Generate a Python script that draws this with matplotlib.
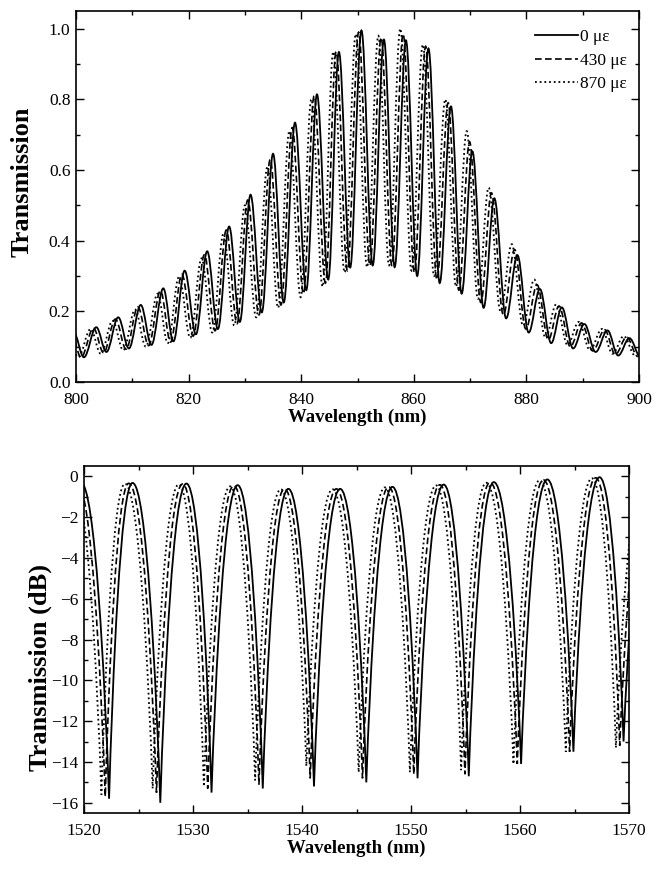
import numpy as np
import matplotlib
matplotlib.use("Agg")
import matplotlib.pyplot as plt
from matplotlib.path import Path
from matplotlib.patches import PathPatch
from matplotlib.lines import Line2D
from matplotlib.ticker import MultipleLocator, FormatStrFormatter

plt.rcParams['font.family'] = ['Liberation Serif', 'DejaVu Serif']

# ---------------- data: top panel (fringe extrema) ----------------
labels = ["0 \u03bc\u03b5", "430 \u03bc\u03b5", "870 \u03bc\u03b5"]

top_peak_x_0 = [799.6, 803.6, 807.5, 811.5, 815.5, 819.3, 823.3, 827.2, 831.0, 835.0, 838.9, 842.8, 846.7,
                850.7, 854.7, 858.6, 862.6, 866.6, 870.4, 874.3, 878.4, 882.4, 886.3, 890.3, 894.4, 898.3]
top_peak_y_0 = [0.14, 0.155, 0.183, 0.218, 0.265, 0.315, 0.37, 0.44, 0.53, 0.646, 0.734, 0.814, 0.934,
                0.995, 0.969, 0.967, 0.944, 0.78, 0.653, 0.52, 0.359, 0.263, 0.211, 0.164, 0.146, 0.124]
top_trough_x_0 = [801.4, 805.4, 809.4, 813.4, 817.3, 821.3, 825.2, 829.1, 833.0, 836.9, 840.9, 844.8, 848.7,
                  852.7, 856.6, 860.6, 864.6, 868.5, 872.4, 876.4, 880.4, 884.4, 888.3, 892.3, 896.3, 900.3]
top_trough_y_0 = [0.07, 0.085, 0.095, 0.105, 0.115, 0.135, 0.15, 0.17, 0.197, 0.225, 0.26, 0.29, 0.324,
                  0.33, 0.325, 0.30, 0.28, 0.25, 0.21, 0.18, 0.14, 0.11, 0.095, 0.085, 0.075, 0.07]

top_peak_x_430 = [799.1, 803.1, 807.0, 811.0, 815.0, 818.8, 822.8, 826.7, 830.5, 834.5, 838.4, 842.3, 846.2,
                  850.2, 854.2, 858.1, 862.1, 866.1, 869.9, 873.8, 877.9, 881.9, 885.8, 889.8, 893.9, 897.8]
top_peak_y_430 = [0.14, 0.152, 0.178, 0.212, 0.258, 0.305, 0.36, 0.43, 0.515, 0.63, 0.72, 0.81, 0.935,
                  0.99, 0.975, 0.985, 0.95, 0.79, 0.68, 0.535, 0.375, 0.275, 0.215, 0.167, 0.148, 0.127]
top_trough_x_430 = [800.9, 804.9, 808.9, 812.9, 816.8, 820.8, 824.7, 828.6, 832.5, 836.4, 840.4, 844.3, 848.2,
                    852.2, 856.1, 860.1, 864.1, 868.0, 871.9, 875.9, 879.9, 883.9, 887.8, 891.8, 895.8, 899.8]
top_trough_y_430 = [0.07, 0.083, 0.093, 0.103, 0.113, 0.13, 0.145, 0.165, 0.19, 0.218, 0.25, 0.28, 0.315,
                    0.33, 0.33, 0.31, 0.29, 0.26, 0.225, 0.19, 0.15, 0.12, 0.10, 0.088, 0.078, 0.072]

top_peak_x_870 = [798.6, 802.6, 806.5, 810.5, 814.5, 818.3, 822.3, 826.2, 830.0, 834.0, 837.9, 841.8, 845.7,
                  849.7, 853.7, 857.6, 861.6, 865.6, 869.4, 873.3, 877.4, 881.4, 885.3, 889.3, 893.4, 897.3]
top_peak_y_870 = [0.14, 0.15, 0.173, 0.205, 0.25, 0.298, 0.35, 0.42, 0.50, 0.61, 0.71, 0.80, 0.935,
                  0.985, 0.98, 1.0, 0.955, 0.80, 0.71, 0.55, 0.39, 0.29, 0.22, 0.17, 0.15, 0.13]
top_trough_x_870 = [800.4, 804.4, 808.4, 812.4, 816.3, 820.3, 824.2, 828.1, 832.0, 835.9, 839.9, 843.8, 847.7,
                    851.7, 855.6, 859.6, 863.6, 867.5, 871.4, 875.4, 879.4, 883.4, 887.3, 891.3, 895.3, 899.3]
top_trough_y_870 = [0.07, 0.08, 0.09, 0.10, 0.11, 0.125, 0.14, 0.16, 0.183, 0.21, 0.24, 0.27, 0.31,
                    0.325, 0.33, 0.315, 0.30, 0.27, 0.235, 0.20, 0.16, 0.125, 0.105, 0.09, 0.08, 0.075]

# ---------------- data: bottom panel (fringe extrema) ----------------
bot_peak_x_0 = [1519.7, 1524.45, 1529.4, 1534.1, 1538.75, 1543.5, 1548.3, 1553.0, 1557.6, 1562.5, 1567.3, 1572.1]
bot_peak_y_0 = [-0.3, -0.33, -0.36, -0.44, -0.62, -0.62, -0.52, -0.41, -0.29, -0.16, -0.05, -0.05]
bot_dip_x_0 = [1522.3, 1527.0, 1531.7, 1536.4, 1541.1, 1545.9, 1550.6, 1555.3, 1560.1, 1564.9, 1569.5]
bot_dip_y_0 = [-15.8, -16.0, -15.5, -15.3, -15.2, -15.0, -14.8, -14.7, -14.1, -13.5, -13.0]

bot_peak_x_430 = [1519.35, 1524.1, 1529.05, 1533.75, 1538.4, 1543.15, 1547.95, 1552.65, 1557.25, 1562.15, 1566.95, 1571.75]
bot_peak_y_430 = [-0.3, -0.35, -0.38, -0.46, -0.62, -0.62, -0.52, -0.42, -0.3, -0.18, -0.08, -0.05]
bot_dip_x_430 = [1521.95, 1526.65, 1531.35, 1536.05, 1540.75, 1545.55, 1550.25, 1554.95, 1559.75, 1564.55, 1569.15]
bot_dip_y_430 = [-15.7, -15.5, -15.3, -15.1, -14.8, -14.8, -14.6, -14.6, -14.1, -13.5, -13.2]

bot_peak_x_870 = [1519.0, 1523.75, 1528.7, 1533.4, 1538.05, 1542.8, 1547.6, 1552.3, 1556.9, 1561.8, 1566.6, 1571.4]
bot_peak_y_870 = [-0.3, -0.37, -0.4, -0.5, -0.64, -0.64, -0.55, -0.45, -0.32, -0.2, -0.1, -0.05]
bot_dip_x_870 = [1521.6, 1526.3, 1531.0, 1535.7, 1540.4, 1545.2, 1549.9, 1554.6, 1559.4, 1564.2, 1568.8]
bot_dip_y_870 = [-15.6, -15.3, -15.2, -14.9, -14.2, -14.5, -14.5, -14.4, -14.1, -13.5, -13.3]

# ---------------- helpers ----------------
def merge(px, py, tx, ty):
    pts = sorted(list(zip(px, py)) + list(zip(tx, ty)))
    return [p[0] for p in pts], [p[1] for p in pts]


def smooth_path(xs, ys, sharp_low=False):
    """Cubic Bezier path through alternating extrema (horizontal tangents)."""
    verts = [(xs[0], ys[0])]
    codes = [Path.MOVETO]
    for i in range(len(xs) - 1):
        x0, y0, x1, y1 = xs[i], ys[i], xs[i + 1], ys[i + 1]
        dx = x1 - x0
        if not sharp_low:
            c1 = (x0 + 0.364 * dx, y0)
            c2 = (x1 - 0.364 * dx, y1)
        else:
            if y0 > y1:  # peak -> dip
                c1 = (x0 + 0.5 * dx, y0)
                c2 = (x1 - 0.15 * dx, y1 + 0.38 * (y0 - y1))
            else:        # dip -> peak
                c1 = (x0 + 0.15 * dx, y0 + 0.38 * (y1 - y0))
                c2 = (x1 - 0.5 * dx, y1)
        verts += [c1, c2, (x1, y1)]
        codes += [Path.CURVE4] * 3
    return Path(verts, codes)


styles = [dict(linestyle='-', linewidth=1.3),
          dict(linestyle=(0, (4.0, 2.0)), linewidth=1.2),
          dict(linestyle=(0, (1.0, 1.6)), linewidth=1.3)]

fig = plt.figure(figsize=(6.63, 8.69), dpi=100)
ax1 = fig.add_axes([76 / 663, 1 - 382 / 869, 563 / 663, 371 / 869])
ax2 = fig.add_axes([84 / 663, 1 - 813 / 869, 545 / 663, 347 / 869])

top_sets = [(top_peak_x_0, top_peak_y_0, top_trough_x_0, top_trough_y_0),
            (top_peak_x_430, top_peak_y_430, top_trough_x_430, top_trough_y_430),
            (top_peak_x_870, top_peak_y_870, top_trough_x_870, top_trough_y_870)]
bot_sets = [(bot_peak_x_0, bot_peak_y_0, bot_dip_x_0, bot_dip_y_0),
            (bot_peak_x_430, bot_peak_y_430, bot_dip_x_430, bot_dip_y_430),
            (bot_peak_x_870, bot_peak_y_870, bot_dip_x_870, bot_dip_y_870)]

for (px, py, tx, ty), st in zip(top_sets, styles):
    xs, ys = merge(px, py, tx, ty)
    ax1.add_patch(PathPatch(smooth_path(xs, ys), fill=False, edgecolor='black', **st))
for (px, py, tx, ty), st in zip(bot_sets, styles):
    xs, ys = merge(px, py, tx, ty)
    ax2.add_patch(PathPatch(smooth_path(xs, ys, sharp_low=True), fill=False, edgecolor='black', **st))

ax1.set_xlim(800, 900)
ax1.set_ylim(0, 1.05)
ax2.set_xlim(1520, 1570)
ax2.set_ylim(-16.5, 0.5)

ax1.xaxis.set_major_locator(MultipleLocator(20))
ax1.xaxis.set_minor_locator(MultipleLocator(10))
ax1.yaxis.set_major_locator(MultipleLocator(0.2))
ax1.yaxis.set_minor_locator(MultipleLocator(0.1))
ax1.yaxis.set_major_formatter(FormatStrFormatter('%.1f'))
ax2.xaxis.set_major_locator(MultipleLocator(10))
ax2.xaxis.set_minor_locator(MultipleLocator(5))
ax2.yaxis.set_major_locator(MultipleLocator(2))
ax2.yaxis.set_minor_locator(MultipleLocator(1))

for ax in (ax1, ax2):
    ax.tick_params(which='both', direction='in', top=True, right=True, labelsize=12.5)
    ax.tick_params(which='major', length=5.5, width=1.0)
    ax.tick_params(which='minor', length=3, width=1.0)
    ax.tick_params(axis='x', which='major', pad=7)
    ax.tick_params(axis='y', which='major', pad=4)
    for s in ax.spines.values():
        s.set_linewidth(1.2)
    ax.set_xlabel('Wavelength (nm)', fontsize=13.5, fontweight='bold', labelpad=1)

ax1.set_ylabel('Transmission', fontsize=19, fontweight='bold')
ax2.set_ylabel('Transmission (dB)', fontsize=19, fontweight='bold')
ax1.yaxis.set_label_coords(-0.076, 0.54)
ax2.yaxis.set_label_coords(-0.058, 0.42)

handles = [Line2D([], [], color='black', **st) for st in styles]
ax1.legend(handles, labels, loc='upper right', bbox_to_anchor=(0.991, 0.970), frameon=False,
           fontsize=12.5, handlelength=2.5, handletextpad=0.1, labelspacing=0.42, borderaxespad=0.0)

fig.savefig('out.png', dpi=100)
